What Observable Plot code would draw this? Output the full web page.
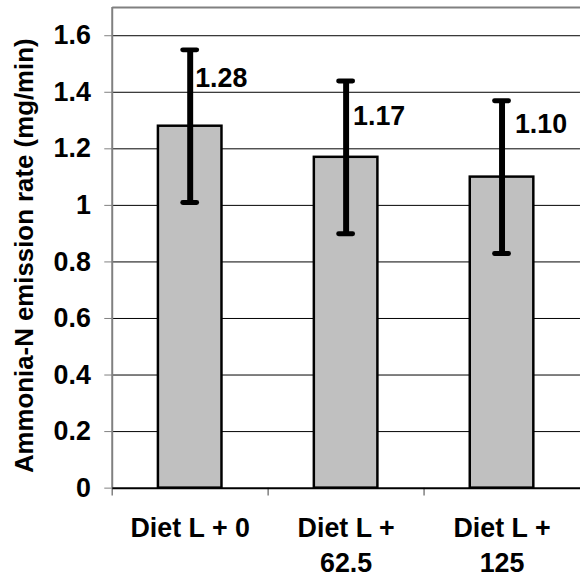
<!DOCTYPE html>
<html>
<head>
<meta charset="utf-8">
<script src="https://cdn.jsdelivr.net/npm/d3@7"></script>
<script src="https://cdn.jsdelivr.net/npm/@observablehq/plot@0.6"></script>
<style>
  html, body { margin: 0; padding: 0; background: #fff; overflow: hidden; }
</style>
</head>
<body>
<div id="chart"></div>
<script>
const categories = ["Diet L + 0", "Diet L + 62.5", "Diet L + 125"];
const tickLabels = ["Diet L + 0", "Diet L +\n62.5", "Diet L +\n125"];
const values = [1.28, 1.17, 1.10];
const errors = [0.27, 0.27, 0.27];
const valueLabels = ["1.28", "1.17", "1.10"];
const labelY = [1.45, 1.315, 1.285];
const yTicks = [0, 0.2, 0.4, 0.6, 0.8, 1, 1.2, 1.4, 1.6];
const yLabel = "Ammonia-N emission rate (mg/min)";

const data = categories.map((c, i) => ({
  cat: c, value: values[i], lo: values[i] - errors[i], hi: values[i] + errors[i], label: valueLabels[i], ly: labelY[i]
}));
const tickMap = new Map(categories.map((c, i) => [c, tickLabels[i]]));
const labelDx = [5, 7, 13];

const W = 584, ML = 113, MR = 0, MT = 7, MB = 86;
const step = (W - ML - MR) / categories.length;

const chart = Plot.plot({
  width: W,
  height: 577,
  marginLeft: ML,
  marginRight: MR,
  marginTop: MT,
  marginBottom: MB,
  style: { fontFamily: "'Liberation Sans', Arial, sans-serif", fontWeight: "bold", color: "#000", background: "#fff", overflow: "visible" },
  x: { domain: categories, paddingInner: 0.59, paddingOuter: 0.295, label: null },
  y: { domain: [0, 1.7], label: null },
  marks: [
    Plot.gridY(yTicks.filter(d => d > 0), { stroke: "#000", strokeOpacity: 1, strokeWidth: 1 }),
    Plot.ruleY([1.7], { stroke: "#808080", strokeWidth: 2 }),
    Plot.ruleX(categories, { x: d => d, y1: 0, y2: 1.7, dx: -step / 2, stroke: "#808080", strokeWidth: 2, filter: (d, i) => i === 0 }),
    Plot.ruleX(categories, { x: d => d, y1: 0, y2: -8 / 285, dx: -step / 2, stroke: "#808080", strokeWidth: 1.5 }),
    Plot.barY(data, { x: "cat", y: "value", fill: "#c0c0c0", stroke: "#000", strokeWidth: 2.5 }),
    Plot.ruleY([0], { stroke: "#000", strokeWidth: 2 }),
    Plot.ruleX(data, { x: "cat", y1: "lo", y2: "hi", stroke: "#000", strokeWidth: 6 }),
    Plot.tickY(data, { x: "cat", y: "hi", stroke: "#000", strokeWidth: 5, strokeLinecap: "round", insetLeft: 25, insetRight: 25 }),
    Plot.tickY(data, { x: "cat", y: "lo", stroke: "#000", strokeWidth: 5, strokeLinecap: "round", insetLeft: 25, insetRight: 25 }),
    ...data.map((d, i) => Plot.text([d], { x: "cat", y: "ly", text: "label", dx: labelDx[i], textAnchor: "start", lineAnchor: "middle", fontSize: 27, fontWeight: "bold", fill: "#000" })),
    Plot.axisY({ ticks: yTicks, tickSize: 8, tickFormat: () => "", stroke: "#808080", label: null }),
    Plot.text(yTicks, { y: d => d, frameAnchor: "left", dx: -22, text: d => String(+d.toFixed(1)), textAnchor: "end", lineAnchor: "middle", fontSize: 27, fontWeight: "bold", fill: "#000" }),
    Plot.axisX({ tickSize: 0, tickPadding: 24, tickFormat: d => tickMap.get(d), fontSize: 27, lineHeight: 1.3, label: null }),
    Plot.text([yLabel], { text: d => d, frameAnchor: "left", rotate: -90, dx: -89, dy: 8, textAnchor: "middle", lineAnchor: "middle", fontSize: 26, fontWeight: "bold", fill: "#000" })
  ]
});
document.getElementById("chart").appendChild(chart);
</script>
</body>
</html>
